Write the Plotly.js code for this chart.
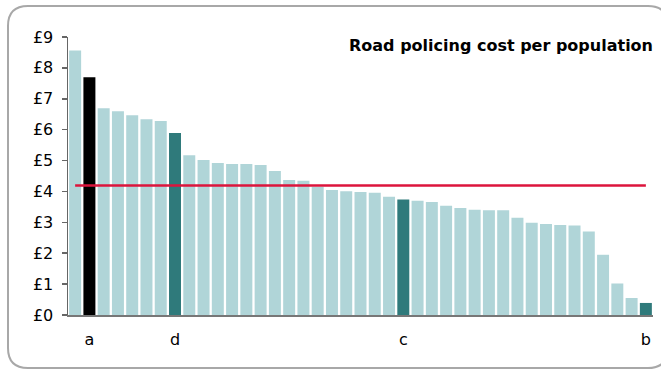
<!DOCTYPE html>
<html>
<head>
<meta charset="utf-8">
<script src="https://cdn.plot.ly/plotly-3.0.1.min.js"></script>
<style>
  html, body { margin: 0; padding: 0; background: #fff; overflow: hidden; }
  #chart { width: 661px; height: 371px; }
</style>
</head>
<body>
<div id="chart"></div>
<script>
// Police forces (ordered by cost), 41 bars
const forces = ["F01","F02","F03","F04","F05","F06","F07","F08","F09","F10",
                "F11","F12","F13","F14","F15","F16","F17","F18","F19","F20",
                "F21","F22","F23","F24","F25","F26","F27","F28","F29","F30",
                "F31","F32","F33","F34","F35","F36","F37","F38","F39","F40","F41"];
// Road policing cost per population (£)
const costs = [8.56, 7.70, 6.69, 6.60, 6.47, 6.34, 6.28, 5.89, 5.17, 5.02,
               4.92, 4.89, 4.89, 4.86, 4.66, 4.37, 4.35, 4.15, 4.05, 4.01,
               3.98, 3.96, 3.83, 3.74, 3.70, 3.66, 3.54, 3.46, 3.41, 3.39,
               3.39, 3.15, 2.99, 2.95, 2.91, 2.90, 2.70, 1.95, 1.02, 0.55, 0.39];
// Average line
const average = 4.19;
// Labelled forces
const labelForces = ["F02", "F08", "F24", "F41"];
const labelTexts  = ["a", "d", "c", "b"];
const yTickVals   = [0, 1, 2, 3, 4, 5, 6, 7, 8, 9];
const yTickTexts  = ["£0", "£1", "£2", "£3", "£4", "£5", "£6", "£7", "£8", "£9"];

const LIGHT = "#B0D5D8", DARK = "#2F7A7B", BLACK = "#000000";
const colors = forces.map(f => f === "F02" ? BLACK : (labelForces.includes(f) ? DARK : LIGHT));

const font = "DejaVu Sans, Arial, sans-serif";

// Page geometry (pixels) for the rounded frame, converted to paper units
const W = 661, H = 371, M = { l: 68, r: 8, t: 37, b: 56 };
const pw = W - M.l - M.r, ph = H - M.t - M.b;
const px = v => ((v - M.l) / pw).toFixed(5);
const py = v => ((H - M.b - v) / ph).toFixed(5);
function roundRect(x0, y0, x1, y1, r) {
  return `M${px(x0 + r)},${py(y0)} L${px(x1 - r)},${py(y0)} Q${px(x1)},${py(y0)} ${px(x1)},${py(y0 + r)} ` +
         `L${px(x1)},${py(y1 - r)} Q${px(x1)},${py(y1)} ${px(x1 - r)},${py(y1)} ` +
         `L${px(x0 + r)},${py(y1)} Q${px(x0)},${py(y1)} ${px(x0)},${py(y1 - r)} ` +
         `L${px(x0)},${py(y0 + r)} Q${px(x0)},${py(y0)} ${px(x0 + r)},${py(y0)} Z`;
}

const traces = [
  {
    type: "bar", x: forces, y: costs,
    marker: { color: colors, line: { width: 0 } },
    hoverinfo: "skip", showlegend: false
  },
  {
    type: "scatter", mode: "lines",
    x: [forces[0], forces[forces.length - 1]],
    y: [average, average],
    line: { color: "#DC143C", width: 2.5 },
    hoverinfo: "skip", showlegend: false
  }
];

const layout = {
  width: W, height: H,
  margin: { l: M.l, r: M.r, t: M.t, b: M.b, pad: 0 },
  paper_bgcolor: "#ffffff", plot_bgcolor: "rgba(0,0,0,0)",
  font: { family: font, size: 16, color: "#000" },
  bargap: 0.16,
  title: {
    text: "<b>Road policing cost per population</b>",
    font: { family: font, size: 16, color: "#000" },
    xref: "paper", yref: "paper", x: 1, xanchor: "right",
    y: 0.97, yanchor: "middle"
  },
  xaxis: {
    type: "category", range: [-0.5, forces.length - 0.5],
    showline: true, linecolor: "#777777", linewidth: 2,
    showgrid: false, zeroline: false, ticks: "",
    tickmode: "array", tickvals: labelForces, ticktext: labelTexts,
    ticklabelstandoff: 9,
    tickfont: { family: font, size: 16, color: "#000" }
  },
  yaxis: {
    range: [0, 9], tickmode: "array", tickvals: yTickVals, ticktext: yTickTexts,
    showline: true, linecolor: "#666666", linewidth: 1.5,
    ticks: "outside", ticklen: 5, tickcolor: "#666666", tickwidth: 1.5,
    showgrid: false, zeroline: false, ticklabelstandoff: 5,
    tickfont: { family: font, size: 16, color: "#000" }
  },
  shapes: [{
    type: "path", xref: "paper", yref: "paper", layer: "below",
    path: roundRect(8, 6, 668, 368, 20),
    line: { color: "#A8A8A8", width: 2 }, fillcolor: "rgba(0,0,0,0)"
  }]
};

Plotly.newPlot("chart", traces, layout, { staticPlot: true, displayModeBar: false });
</script>
</body>
</html>
